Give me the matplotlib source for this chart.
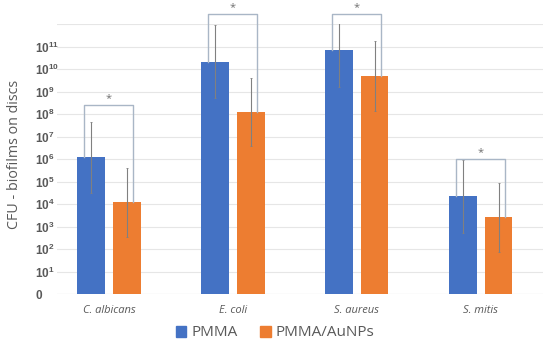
import numpy as np
import matplotlib
matplotlib.use("Agg")
import matplotlib.pyplot as plt
from matplotlib.patches import Patch

# values in log10 units (axis shows 10^k)
species = ["C. albicans", "E. coli", "S. aureus", "S. mitis"]
pmma = [6.08, 10.33, 10.83, 4.34]
pmma_err = [1.58, 1.62, 1.65, 1.63]
aunps = [4.07, 8.09, 9.69, 3.41]
aunps_err = [1.55, 1.53, 1.55, 1.54]
bracket_top = [8.4, 12.45, 12.45, 6.0]
ytick_labels = [r"$\mathbf{0}$"] + [r"$\mathbf{10^{%d}}$" % k for k in range(1, 12)]

blue = "#4472c4"
orange = "#ed7d31"
grey_txt = "#595959"

plt.rcParams["font.family"] = ["Open Sans", "DejaVu Sans"]
plt.rcParams["mathtext.fontset"] = "custom"
plt.rcParams["mathtext.bf"] = "Liberation Sans:bold"
plt.rcParams["mathtext.rm"] = "Liberation Sans:bold"

fig = plt.figure(figsize=(5.5, 3.43), dpi=100)
ax = fig.add_axes([57 / 550, 49 / 343, 486 / 550, 270 / 343])

x = np.arange(len(species))
w = 0.225
off = 0.143
ax.bar(x - off, pmma, w, color=blue, zorder=2)
ax.bar(x + off, aunps, w, color=orange, zorder=2)
ax.errorbar(x - off, pmma, yerr=pmma_err, fmt="none", ecolor="#808080",
            elinewidth=0.8, capsize=1, capthick=0.6, zorder=3)
ax.errorbar(x + off, aunps, yerr=aunps_err, fmt="none", ecolor="#808080",
            elinewidth=0.8, capsize=1, capthick=0.6, zorder=3)

# significance brackets
bw = 0.198
for i in range(len(species)):
    xl, xr = x[i] - bw, x[i] + bw
    ax.plot([xl, xl, xr, xr], [pmma[i], bracket_top[i], bracket_top[i], aunps[i]],
            color="#a9b6c6", lw=1.0, clip_on=False, zorder=4)
    ax.text(x[i], bracket_top[i] + 0.05, "*", ha="center", va="bottom",
            fontsize=8, color="#707070", clip_on=False)

ax.set_xlim(-0.419, 3.502)
ax.set_ylim(0, 12)
ax.set_yticks(range(0, 13))
ax.set_yticklabels(ytick_labels + [""], fontsize=8.5, color=grey_txt, ha="left")
ax.yaxis.grid(True, color="#e6e6e6", lw=0.8, zorder=0)
ax.set_axisbelow(True)
ax.set_xticks(x)
ax.set_xticklabels(species, fontsize=8, style="italic", color=grey_txt)
ax.tick_params(axis="x", length=0, pad=8)
ax.tick_params(axis="y", length=0, pad=16)
for s in ax.spines.values():
    s.set_visible(False)
ax.axhline(0, color="#d9d9d9", lw=0.8, zorder=1)

ax.set_ylabel("CFU - biofilms on discs", fontsize=10.3, color=grey_txt)
ax.yaxis.set_label_coords(-0.072, 0.517)

handles = [Patch(color=blue, label="PMMA"), Patch(color=orange, label="PMMA/AuNPs")]
fig.legend(handles=handles, loc="center", bbox_to_anchor=(0.5, 10 / 343), ncol=2,
           frameon=False, fontsize=11, labelcolor=grey_txt, handlelength=0.7,
           handleheight=0.7, handletextpad=0.3, columnspacing=1.5)

fig.savefig("out.png", dpi=100)
